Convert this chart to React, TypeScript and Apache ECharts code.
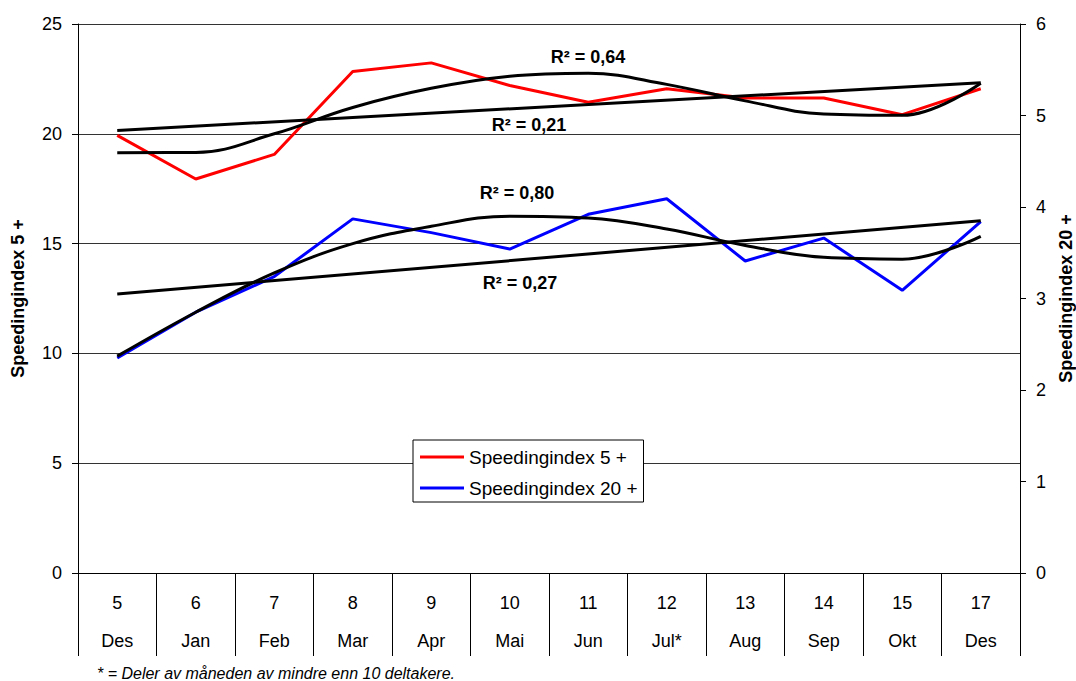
import React, { useEffect, useRef } from "react";
import * as echarts from "echarts";

const weekNumbers = ["5", "6", "7", "8", "9", "10", "11", "12", "13", "14", "15", "17"];
const monthNames = ["Des", "Jan", "Feb", "Mar", "Apr", "Mai", "Jun", "Jul*", "Aug", "Sep", "Okt", "Des"];

const speeding5 = [19.93, 17.94, 19.06, 22.84, 23.23, 22.2, 21.44, 22.05, 21.63, 21.63, 20.87, 22.05];
const speeding20 = [2.35, 2.85, 3.24, 3.87, 3.72, 3.54, 3.92, 4.09, 3.41, 3.66, 3.09, 3.84];

const trend5Linear = [20.15, 22.32];
const trend20Linear = [3.05, 3.85];
const trend5Poly = [19.14, 19.15, 20.0, 21.2, 22.07, 22.62, 22.76, 22.25, 21.5, 20.9, 20.84, 22.3];
const trend20Poly = [2.37, 2.85, 3.28, 3.6, 3.79, 3.9, 3.88, 3.76, 3.58, 3.45, 3.43, 3.68];

const r2Labels = ["R² = 0,64", "R² = 0,21", "R² = 0,80", "R² = 0,27"];
const footnote = "* = Deler av måneden av mindre enn 10 deltakere.";

const FONT = "'Liberation Sans', Arial, sans-serif";

export default function App() {
  const ref = useRef<HTMLDivElement>(null);
  useEffect(() => {
    if (!ref.current) return;
    const chart = echarts.init(ref.current, undefined, { renderer: "svg" });
    const last = weekNumbers.length - 1;
    const trendStyle = { color: "#000", width: 3 };
    chart.setOption({
      animation: false,
      backgroundColor: "#fff",
      textStyle: { fontFamily: FONT },
      grid: { left: 78, right: 56, top: 24, bottom: 108, containLabel: false, outerBoundsMode: "none" },
      legend: {
        data: ["Speedingindex 5 +", "Speedingindex 20 +"],
        orient: "vertical",
        left: 413,
        top: 440,
        icon: "rect",
        itemWidth: 44,
        itemHeight: 3,
        itemGap: 11,
        padding: [7, 6, 4, 7],
        borderColor: "#000",
        borderWidth: 1,
        backgroundColor: "#fff",
        selectedMode: false,
        textStyle: { fontSize: 19, lineHeight: 20, color: "#000", fontFamily: FONT },
        z: 10,
      },
      xAxis: {
        type: "category",
        data: weekNumbers.map((w, i) => w + "\n" + monthNames[i]),
        boundaryGap: true,
        axisLine: { lineStyle: { color: "#000", width: 1 } },
        axisTick: { show: true, interval: 0, length: 83, lineStyle: { color: "#000", width: 1 } },
        axisLabel: { interval: 0, fontSize: 18, lineHeight: 38, margin: 11, color: "#000", fontFamily: FONT },
        splitLine: { show: false },
      },
      yAxis: [
        {
          type: "value",
          min: 0,
          max: 25,
          interval: 5,
          name: "Speedingindex 5 +",
          nameLocation: "middle",
          nameGap: 51,
          nameRotate: 90,
          nameTextStyle: { fontSize: 18, fontWeight: "bold", color: "#000", fontFamily: FONT },
          axisLine: { show: true, lineStyle: { color: "#000", width: 1 } },
          axisTick: { show: true, length: 6, lineStyle: { color: "#000" } },
          axisLabel: { fontSize: 18, margin: 16, color: "#000", fontFamily: FONT },
          splitLine: { show: true, lineStyle: { color: "#333", width: 1 } },
        },
        {
          type: "value",
          min: 0,
          max: 6,
          interval: 1,
          position: "right",
          name: "Speedingindex 20 +",
          nameLocation: "middle",
          nameGap: 36,
          nameRotate: 90,
          nameTextStyle: { fontSize: 18, fontWeight: "bold", color: "#000", fontFamily: FONT },
          axisLine: { show: true, lineStyle: { color: "#000", width: 1 } },
          axisTick: { show: true, length: 6, lineStyle: { color: "#000" } },
          axisLabel: { fontSize: 18, margin: 16, color: "#000", fontFamily: FONT },
          splitLine: { show: false },
        },
      ],
      series: [
        {
          name: "Speedingindex 5 +",
          type: "line",
          yAxisIndex: 0,
          data: speeding5,
          showSymbol: false,
          symbol: "none",
          lineStyle: { color: "#ff0000", width: 3 },
          itemStyle: { color: "#ff0000" },
          z: 2,
        },
        {
          name: "Speedingindex 20 +",
          type: "line",
          yAxisIndex: 1,
          data: speeding20,
          showSymbol: false,
          symbol: "none",
          lineStyle: { color: "#0000ff", width: 3 },
          itemStyle: { color: "#0000ff" },
          z: 2,
        },
        {
          name: "trend5lin",
          type: "line",
          yAxisIndex: 0,
          data: [[0, trend5Linear[0]], [last, trend5Linear[1]]],
          symbol: "none",
          lineStyle: trendStyle,
          z: 3,
        },
        {
          name: "trend5poly",
          type: "line",
          yAxisIndex: 0,
          data: trend5Poly,
          smooth: 0.4,
          symbol: "none",
          lineStyle: trendStyle,
          z: 3,
        },
        {
          name: "trend20lin",
          type: "line",
          yAxisIndex: 1,
          data: [[0, trend20Linear[0]], [last, trend20Linear[1]]],
          symbol: "none",
          lineStyle: trendStyle,
          z: 3,
        },
        {
          name: "trend20poly",
          type: "line",
          yAxisIndex: 1,
          data: trend20Poly,
          smooth: 0.4,
          symbol: "none",
          lineStyle: trendStyle,
          z: 3,
        },
      ],
      graphic: [
        ...[
          [588, 57],
          [529, 125],
          [517, 193],
          [520, 283],
        ].map(([x, y], i) => ({
          type: "text",
          x,
          y,
          z: 20,
          style: {
            text: r2Labels[i],
            fontSize: 18,
            fontWeight: "bold",
            fontFamily: FONT,
            fill: "#000",
            textAlign: "center",
            textVerticalAlign: "middle",
          },
        })),
        {
          type: "text",
          x: 97,
          y: 673,
          style: {
            text: footnote,
            fontSize: 16,
            fontStyle: "italic",
            fontFamily: FONT,
            fill: "#000",
            textAlign: "left",
            textVerticalAlign: "middle",
          },
        },
      ],
    });
    return () => chart.dispose();
  }, []);
  return (
    <div
      ref={ref}
      style={{ position: "fixed", left: 0, top: 0, width: 1076, height: 681, background: "#fff" }}
    />
  );
}
